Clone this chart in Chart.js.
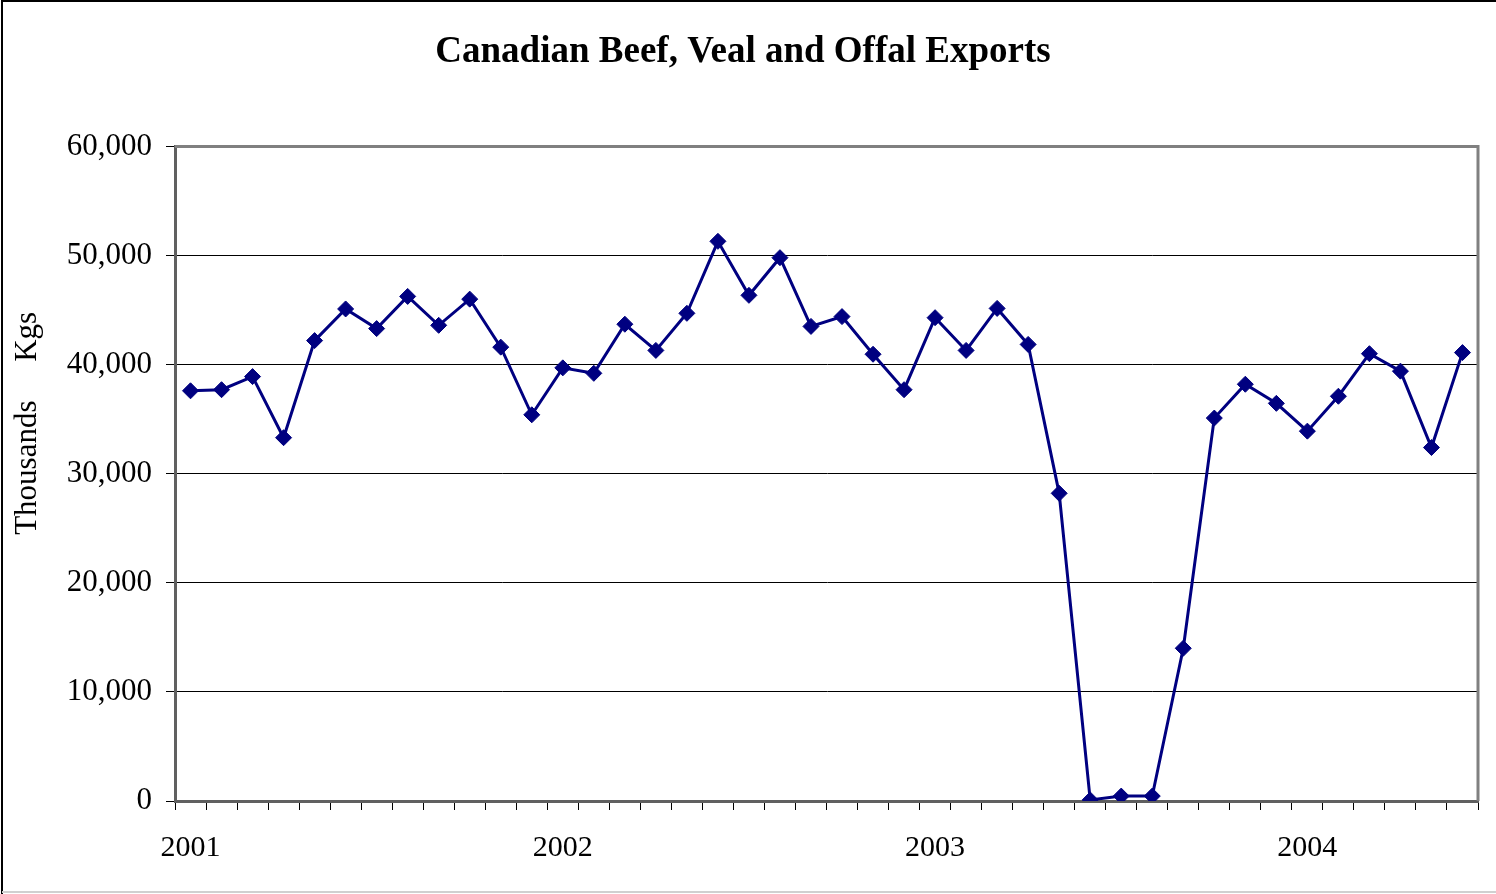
<!DOCTYPE html>
<html>
<head>
<meta charset="utf-8">
<title>Canadian Beef, Veal and Offal Exports</title>
<script src="https://cdn.jsdelivr.net/npm/chart.js@4.4.1/dist/chart.umd.min.js"></script>
<style>
    html, body { margin: 0; padding: 0; background: #fff; }
    #wrap { width: 1496px; height: 894px; position: relative; }
</style>
</head>
<body>
<div id="wrap"><canvas id="chart"></canvas></div>
<script>
// Monthly categories, Jan 2001 - Jun 2004
const months = [
    'Jan 2001', 'Feb 2001', 'Mar 2001', 'Apr 2001', 'May 2001', 'Jun 2001',
    'Jul 2001', 'Aug 2001', 'Sep 2001', 'Oct 2001', 'Nov 2001', 'Dec 2001',
    'Jan 2002', 'Feb 2002', 'Mar 2002', 'Apr 2002', 'May 2002', 'Jun 2002',
    'Jul 2002', 'Aug 2002', 'Sep 2002', 'Oct 2002', 'Nov 2002', 'Dec 2002',
    'Jan 2003', 'Feb 2003', 'Mar 2003', 'Apr 2003', 'May 2003', 'Jun 2003',
    'Jul 2003', 'Aug 2003', 'Sep 2003', 'Oct 2003', 'Nov 2003', 'Dec 2003',
    'Jan 2004', 'Feb 2004', 'Mar 2004', 'Apr 2004', 'May 2004', 'Jun 2004'
];

// Exports, thousands of kgs
const exportsKgs = [
    37600, 37700, 38900, 33300, 42200, 45100,
    43300, 46250, 43600, 46000, 41600, 35400,
    39700, 39200, 43700, 41300, 44700, 51300,
    46350, 49800, 43500, 44400, 40950, 37700,
    44300, 41300, 45150, 41850, 28200, 100,
    450, 450, 14000, 35100, 38200, 36450,
    33900, 37100, 41000, 39400, 32400, 41100
];

// Year labels shown under each January
const yearLabels = ['2001', '2002', '2003', '2004'];

// Y axis ticks
const yTicks = [0, 10000, 20000, 30000, 40000, 50000, 60000];

const serif = '"Liberation Serif", "Times New Roman", serif';

// Frame round the picture and gray box round the plot
const framePlugin = {
    id: 'frame',
    beforeDraw(chart) {
        const ctx = chart.ctx;
        ctx.save();
        ctx.fillStyle = '#fff';
        ctx.fillRect(0, 0, chart.width, chart.height);
        ctx.strokeStyle = '#000';
        ctx.lineWidth = 2;
        ctx.beginPath();
        ctx.moveTo(2, chart.height);
        ctx.lineTo(2, 1);
        ctx.lineTo(chart.width, 1);
        ctx.stroke();
        ctx.strokeStyle = '#d0d0d0';
        ctx.beginPath();
        ctx.moveTo(2, chart.height - 2);
        ctx.lineTo(chart.width, chart.height - 2);
        ctx.stroke();
        ctx.restore();
    },
    beforeDatasetsDraw(chart) {
        const { ctx, chartArea: a } = chart;
        ctx.save();
        ctx.strokeStyle = '#808080';
        ctx.lineWidth = 3;
        ctx.beginPath();
        ctx.moveTo(a.left, a.top);
        ctx.lineTo(a.right, a.top);
        ctx.lineTo(a.right, a.bottom);
        ctx.stroke();
        ctx.restore();
    }
};

const ctx = document.getElementById('chart');

new Chart(ctx, {
    type: 'line',
    data: {
        labels: months,
        datasets: [{
            label: 'Exports',
            data: exportsKgs,
            borderColor: '#000080',
            backgroundColor: '#000080',
            borderWidth: 3,
            pointStyle: 'rectRot',
            pointRadius: 8,
            pointBorderWidth: 1,
            pointBackgroundColor: '#000080',
            pointBorderColor: '#000080',
            tension: 0
        }]
    },
    options: {
        responsive: true,
        maintainAspectRatio: false,
        animation: false,
        layout: {
            padding: { left: 8, right: 18, top: 0, bottom: 8 }
        },
        plugins: {
            legend: { display: false },
            tooltip: { enabled: false },
            title: {
                display: true,
                text: 'Canadian Beef, Veal and Offal Exports',
                color: '#000',
                font: { family: serif, size: 37, weight: 'bold' },
                padding: { top: 30, bottom: 72 }
            }
        },
        scales: {
            x: {
                type: 'category',
                offset: true,
                grid: {
                    offset: true,
                    drawOnChartArea: false,
                    drawTicks: true,
                    tickLength: 9,
                    tickColor: '#000',
                    lineWidth: 1
                },
                border: { color: '#606060', width: 3 },
                ticks: {
                    autoSkip: false,
                    maxRotation: 0,
                    minRotation: 0,
                    padding: 20,
                    color: '#000',
                    font: { family: serif, size: 30 },
                    callback: (value, index) => {
                        const label = months[index];
                        return label.startsWith('Jan') ? yearLabels[yearLabels.indexOf(label.slice(4))] : '';
                    }
                }
            },
            y: {
                min: 0,
                max: 60000,
                afterBuildTicks: (scale) => {
                    scale.ticks = yTicks.map(v => ({ value: v }));
                },
                afterFit: (scale) => {
                    scale.width = 167;
                },
                grid: {
                    color: '#000',
                    lineWidth: 1,
                    drawTicks: true,
                    tickLength: 9,
                    tickColor: '#000'
                },
                border: { color: '#606060', width: 3 },
                ticks: {
                    padding: 14,
                    color: '#000',
                    font: { family: serif, size: 31 },
                    callback: (v) => v.toLocaleString('en-US')
                },
                title: {
                    display: true,
                    // leading spaces lift the label above the axis centre, as in the original
                    text: '             Thousands     Kgs',
                    color: '#000',
                    font: { family: serif, size: 31 },
                    padding: { top: 1, bottom: 6 }
                }
            }
        }
    },
    plugins: [framePlugin]
});
</script>
</body>
</html>
